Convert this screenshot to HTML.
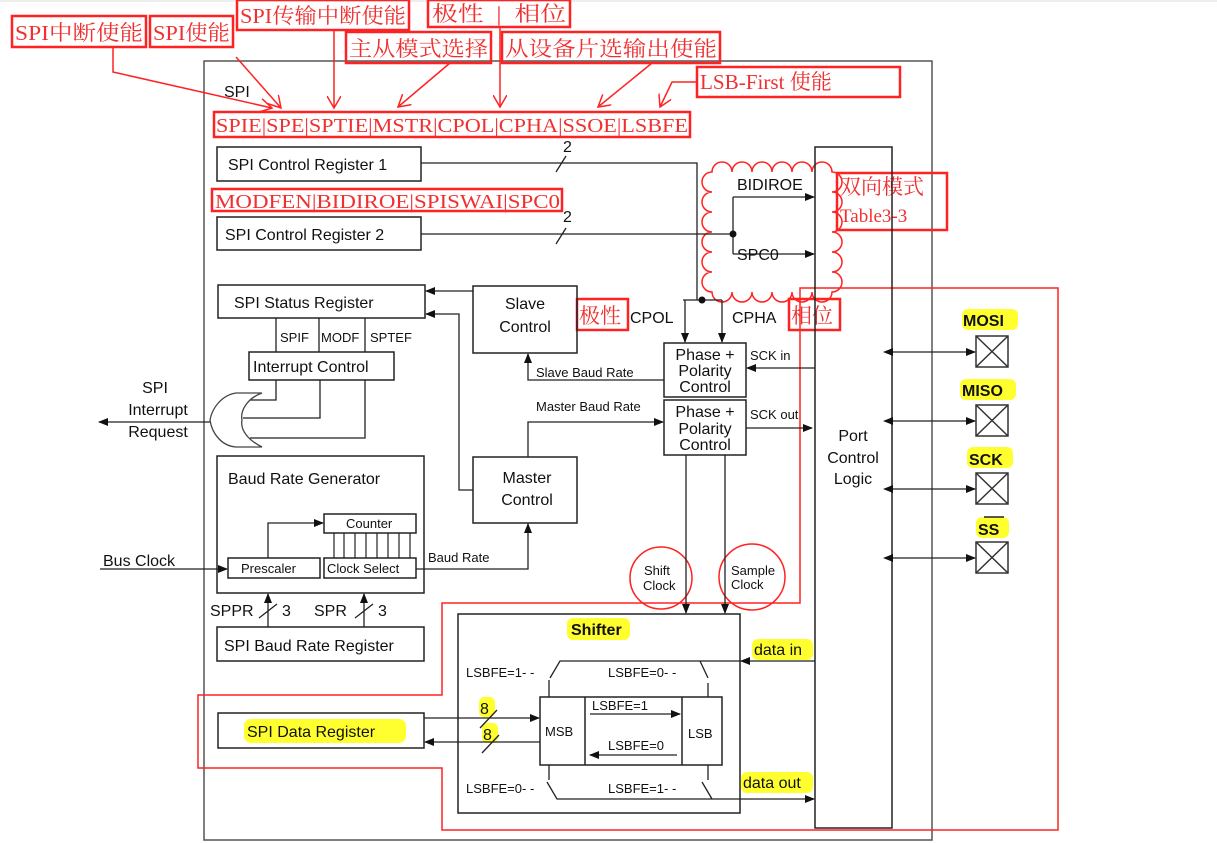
<!DOCTYPE html>
<html><head><meta charset="utf-8"><style>
html,body{margin:0;padding:0;background:#fff;}
svg{display:block;}
text{font-family:"Liberation Sans",sans-serif;fill:#111;}
.r{font-family:"Liberation Serif","Noto Serif CJK SC",serif;fill:#f03030;}
</style></head><body>
<svg width="1217" height="843" viewBox="0 0 1217 843" xmlns="http://www.w3.org/2000/svg">
<defs>
<marker id="a" markerWidth="10" markerHeight="8" refX="9" refY="4" orient="auto" markerUnits="userSpaceOnUse"><path d="M0,0L10,4L0,8z" fill="#111"/></marker>
<marker id="as" markerWidth="10" markerHeight="8" refX="1" refY="4" orient="auto-start-reverse" markerUnits="userSpaceOnUse"><path d="M0,0L10,4L0,8z" fill="#111"/></marker>
<marker id="ra" markerWidth="14" markerHeight="14" refX="12" refY="7" orient="auto" markerUnits="userSpaceOnUse"><path d="M0,0L12,7L0,14" fill="none" stroke="#f22" stroke-width="1.5"/></marker>
</defs>
<rect x="0" y="0" width="1217" height="2" fill="#eee"/>
<!-- outer -->
<rect x="204" y="61" width="728" height="779" fill="none" stroke="#555" stroke-width="1.5"/>
<text x="224" y="97" font-size="16">SPI</text>

<!-- top red labels -->
<g fill="none" stroke="#f22" stroke-width="2.5">
<rect x="12" y="16" width="134" height="31"/>
<rect x="150" y="16" width="83" height="31"/>
<rect x="237" y="0" width="172" height="30"/>
<rect x="428" y="0" width="142" height="27"/>
<rect x="346" y="32" width="145" height="31"/>
<rect x="502" y="32" width="218" height="31"/>
<rect x="697" y="67" width="203" height="30"/>
<rect x="214" y="112" width="476" height="25"/>
<rect x="212" y="189" width="350" height="22"/>
<rect x="837" y="173" width="110" height="57"/>
<rect x="577" y="299" width="51" height="31"/>
<rect x="789" y="299" width="51" height="31"/>
</g>
<text class="r" x="15" y="40" font-size="21" textLength="128" lengthAdjust="spacingAndGlyphs">SPI中断使能</text>
<text class="r" x="153" y="40" font-size="21" textLength="77" lengthAdjust="spacingAndGlyphs">SPI使能</text>
<text class="r" x="240" y="23" font-size="21" textLength="166" lengthAdjust="spacingAndGlyphs">SPI传输中断使能</text>
<text class="r" x="432" y="21" font-size="21" textLength="134" lengthAdjust="spacingAndGlyphs">极性 &#160;| &#160;相位</text>
<text class="r" x="349" y="56" font-size="21" textLength="139" lengthAdjust="spacingAndGlyphs">主从模式选择</text>
<text class="r" x="505" y="56" font-size="21" textLength="212" lengthAdjust="spacingAndGlyphs">从设备片选输出使能</text>
<text class="r" x="700" y="89" font-size="21" textLength="132" lengthAdjust="spacingAndGlyphs">LSB-First 使能</text>
<text class="r" x="216" y="132" font-size="20" textLength="472" lengthAdjust="spacingAndGlyphs">SPIE|SPE|SPTIE|MSTR|CPOL|CPHA|SSOE|LSBFE</text>
<text class="r" x="215" y="208" font-size="20" textLength="345" lengthAdjust="spacingAndGlyphs">MODFEN|BIDIROE|SPISWAI|SPC0</text>
<text class="r" x="840" y="194" font-size="21">双向模式</text>
<text class="r" x="840" y="222" font-size="19">Table3-3</text>
<text class="r" x="579" y="323" font-size="21">极性</text>
<text class="r" x="791" y="323" font-size="21">相位</text>
<g fill="none" stroke="#f22" stroke-width="1.5">
<path d="M113,47V72L272,108" marker-end="url(#ra)"/>
<path d="M236,57L281,108" marker-end="url(#ra)"/>
<path d="M334,30V108" marker-end="url(#ra)"/>
<path d="M450,63L398,107" marker-end="url(#ra)"/>
<path d="M500,27V107" marker-end="url(#ra)"/>
<path d="M652,63L598,107" marker-end="url(#ra)"/>
<path d="M697,82H672L660,107" marker-end="url(#ra)"/>
<path d="M800,288H1058V830H442V768H198V695H442V603H800Z"/>
<circle cx="661" cy="578" r="31"/>
<circle cx="752" cy="577" r="33"/>
<path d="M712,172a10,10 0 0,1 20,0a10,10 0 0,1 20,0a10,10 0 0,1 20,0a10,10 0 0,1 20,0a10,10 0 0,1 20,0a10,10 0 0,1 20,0a10,10 0 0,1 0,20a10,10 0 0,1 0,20a10,10 0 0,1 0,20a10,10 0 0,1 0,20a10,10 0 0,1 0,20a10,10 0 0,1 0,20a10,10 0 0,1 -20,0a10,10 0 0,1 -20,0a10,10 0 0,1 -20,0a10,10 0 0,1 -20,0a10,10 0 0,1 -20,0a10,10 0 0,1 -20,0a10,10 0 0,1 0,-20a10,10 0 0,1 0,-20a10,10 0 0,1 0,-20a10,10 0 0,1 0,-20a10,10 0 0,1 0,-20a10,10 0 0,1 0,-20z"/>
</g>

<!-- black boxes -->
<g fill="none" stroke="#222" stroke-width="1.5">
<rect x="217" y="147" width="204" height="34"/>
<rect x="217" y="217" width="204" height="33"/>
<rect x="218" y="285" width="207" height="33"/>
<rect x="249" y="352" width="145" height="28"/>
<rect x="473" y="286" width="104" height="67"/>
<rect x="473" y="457" width="104" height="66"/>
<rect x="664" y="343" width="82" height="54"/>
<rect x="664" y="400" width="82" height="55"/>
<rect x="815" y="147" width="77" height="681"/>
<rect x="217" y="456" width="207" height="137"/>
<rect x="324" y="514" width="92" height="19"/>
<rect x="324" y="558" width="92" height="20"/>
<rect x="228" y="558" width="92" height="20"/>
<rect x="217" y="627" width="207" height="34"/>
<rect x="458" y="614" width="282" height="199"/>
<rect x="540" y="697" width="182" height="68"/>
<line x1="585" y1="697" x2="585" y2="765"/><line x1="682" y1="697" x2="682" y2="765"/>
<rect x="218" y="713" width="206" height="35"/>
</g>
<g stroke="#222" stroke-width="1.2">
<line x1="334" y1="533" x2="334" y2="558"/><line x1="344" y1="533" x2="344" y2="558"/><line x1="355" y1="533" x2="355" y2="558"/><line x1="366" y1="533" x2="366" y2="558"/><line x1="377" y1="533" x2="377" y2="558"/><line x1="388" y1="533" x2="388" y2="558"/><line x1="399" y1="533" x2="399" y2="558"/><line x1="410" y1="533" x2="410" y2="558"/>
</g>
<!-- pins -->
<g fill="none" stroke="#333" stroke-width="1.5">
<rect x="976" y="336" width="32" height="31"/><path d="M976,336L1008,367M1008,336L976,367"/>
<rect x="976" y="405" width="32" height="31"/><path d="M976,405L1008,436M1008,405L976,436"/>
<rect x="976" y="473" width="32" height="31"/><path d="M976,473L1008,504M1008,473L976,504"/>
<rect x="976" y="542" width="32" height="31"/><path d="M976,542L1008,573M1008,542L976,573"/>
</g>
<g fill="#ffff30">
<rect x="962" y="309" width="56" height="21" rx="6"/>
<rect x="960" y="379" width="56" height="21" rx="6"/>
<rect x="967" y="447" width="46" height="21" rx="6"/>
<rect x="976" y="517" width="33" height="21" rx="6"/>
<rect x="567" y="618" width="63" height="22" rx="6"/>
<rect x="752" y="639" width="61" height="21" rx="6"/>
<rect x="741" y="772" width="72" height="21" rx="6"/>
<rect x="244" y="719" width="162" height="24" rx="7"/>
<rect x="479" y="697" width="16" height="20" rx="5"/>
<rect x="482" y="723" width="16" height="20" rx="5"/>
</g>

<!-- connectors -->
<g fill="none" stroke="#222" stroke-width="1.3">
<path d="M421,163H697V300"/>
<path d="M683,300H722"/>
<path d="M685,300V342" marker-end="url(#a)"/>
<path d="M722,300V342" marker-end="url(#a)"/>
<path d="M421,234H733"/>
<path d="M733,197V254"/>
<path d="M733,197H814" marker-end="url(#a)"/>
<path d="M733,254H814" marker-end="url(#a)"/>
<path d="M815,368H747" marker-end="url(#a)"/>
<path d="M746,428H812" marker-end="url(#a)"/>
<path d="M473,291H426" marker-end="url(#a)"/>
<path d="M473,490H459V314H426" marker-end="url(#a)"/>
<path d="M664,380H528V354" marker-end="url(#a)"/>
<path d="M528,457V422H663" marker-end="url(#a)"/>
<path d="M416,569H528V524" marker-end="url(#a)"/>
<path d="M100,569H227" marker-end="url(#a)"/>
<path d="M268,558V523H323" marker-end="url(#a)"/>
<path d="M268,627V594" marker-end="url(#a)"/>
<path d="M364,627V594" marker-end="url(#a)"/>
<path d="M259,618L277,604M355,618L373,604"/>
<path d="M276,318V352M319,318V352M365,318V352"/>
<path d="M276,380V400H250M320,380V418H243M365,380V438H250"/>
<path d="M210,422H99" marker-end="url(#a)"/>
<path d="M262,393H236C222,395 212,408 210,420C212,434 222,446 236,447H262C248,440 240,430 242,420C240,410 248,398 262,393Z" stroke="#444"/>
<path d="M686,455V613" marker-end="url(#a)"/>
<path d="M725,455V613" marker-end="url(#a)"/>
<path d="M815,661H741" marker-end="url(#a)"/>
<path d="M741,661H560L550,678M700,661L708,678"/>
<path d="M549,680V697M708,683V697"/>
<path d="M549,765V780M708,765V780"/>
<path d="M547,782L557,799H814" marker-end="url(#a)"/>
<path d="M702,782L712,799"/>
<path d="M424,718H539" marker-end="url(#a)"/>
<path d="M540,742H425" marker-end="url(#a)"/>
<path d="M480,728L497,710M482,753L499,735"/>
<path d="M590,714H680" marker-end="url(#a)"/>
<path d="M677,755H590" marker-end="url(#a)"/>
<path d="M892,352H975" marker-start="url(#as)" marker-end="url(#a)"/>
<path d="M892,421H975" marker-start="url(#as)" marker-end="url(#a)"/>
<path d="M892,489H975" marker-start="url(#as)" marker-end="url(#a)"/>
<path d="M892,558H975" marker-start="url(#as)" marker-end="url(#a)"/>
<path d="M556,172L566,156M556,244L566,228"/>
<path d="M984,517H1004" stroke-width="1.5"/>
</g>
<circle cx="733" cy="234" r="3.5" fill="#111"/>
<circle cx="702" cy="300" r="3.5" fill="#111"/>

<!-- texts -->
<g font-size="16">
<text x="563" y="152">2</text>
<text x="563" y="222">2</text>
<text x="228" y="170">SPI Control Register 1</text>
<text x="225" y="240">SPI Control Register 2</text>
<text x="234" y="308">SPI Status Register</text>
<text x="253" y="372">Interrupt Control</text>
<text x="525" y="309" text-anchor="middle">Slave</text>
<text x="525" y="332" text-anchor="middle">Control</text>
<text x="527" y="483" text-anchor="middle">Master</text>
<text x="527" y="505" text-anchor="middle">Control</text>
<text x="228" y="484">Baud Rate Generator</text>
<text x="224" y="651">SPI Baud Rate Register</text>
<text x="247" y="737">SPI Data Register</text>
<text x="155" y="393" text-anchor="middle">SPI</text>
<text x="158" y="415" text-anchor="middle">Interrupt</text>
<text x="158" y="437" text-anchor="middle">Request</text>
<text x="103" y="566">Bus Clock</text>
<text x="210" y="616">SPPR</text><text x="282" y="616">3</text>
<text x="314" y="616">SPR</text><text x="378" y="616">3</text>
<text x="853" y="441" text-anchor="middle">Port</text>
<text x="853" y="463" text-anchor="middle">Control</text>
<text x="853" y="484" text-anchor="middle">Logic</text>
<text x="630" y="323">CPOL</text>
<text x="732" y="323">CPHA</text>
<text x="737" y="190">BIDIROE</text>
<text x="737" y="260">SPC0</text>
<text x="705" y="360" text-anchor="middle">Phase +</text>
<text x="705" y="376" text-anchor="middle">Polarity</text>
<text x="705" y="392" text-anchor="middle">Control</text>
<text x="705" y="417" text-anchor="middle">Phase +</text>
<text x="705" y="434" text-anchor="middle">Polarity</text>
<text x="705" y="450" text-anchor="middle">Control</text>
<text x="963" y="326" font-weight="bold">MOSI</text>
<text x="962" y="396" font-weight="bold">MISO</text>
<text x="969" y="465" font-weight="bold">SCK</text>
<text x="978" y="535" font-weight="bold">SS</text>
<text x="571" y="635" font-weight="bold">Shifter</text>
<text x="754" y="655">data in</text>
<text x="743" y="788">data out</text>
<text x="480" y="714">8</text>
<text x="483" y="740">8</text>
</g>
<g font-size="13">
<text x="280" y="342">SPIF</text>
<text x="321" y="342">MODF</text>
<text x="370" y="342">SPTEF</text>
<text x="346" y="528">Counter</text>
<text x="327" y="573">Clock Select</text>
<text x="241" y="573">Prescaler</text>
<text x="428" y="562">Baud Rate</text>
<text x="536" y="377">Slave Baud Rate</text>
<text x="536" y="411">Master Baud Rate</text>
<text x="750" y="360">SCK in</text>
<text x="750" y="419">SCK out</text>
<text x="644" y="575">Shift</text>
<text x="643" y="590">Clock</text>
<text x="731" y="575">Sample</text>
<text x="731" y="589">Clock</text>
<text x="466" y="677">LSBFE=1- -</text>
<text x="608" y="677">LSBFE=0- -</text>
<text x="466" y="793">LSBFE=0- -</text>
<text x="608" y="793">LSBFE=1- -</text>
<text x="545" y="736">MSB</text>
<text x="688" y="738">LSB</text>
<text x="592" y="710">LSBFE=1</text>
<text x="608" y="750">LSBFE=0</text>
</g>
</svg>
</body></html>
